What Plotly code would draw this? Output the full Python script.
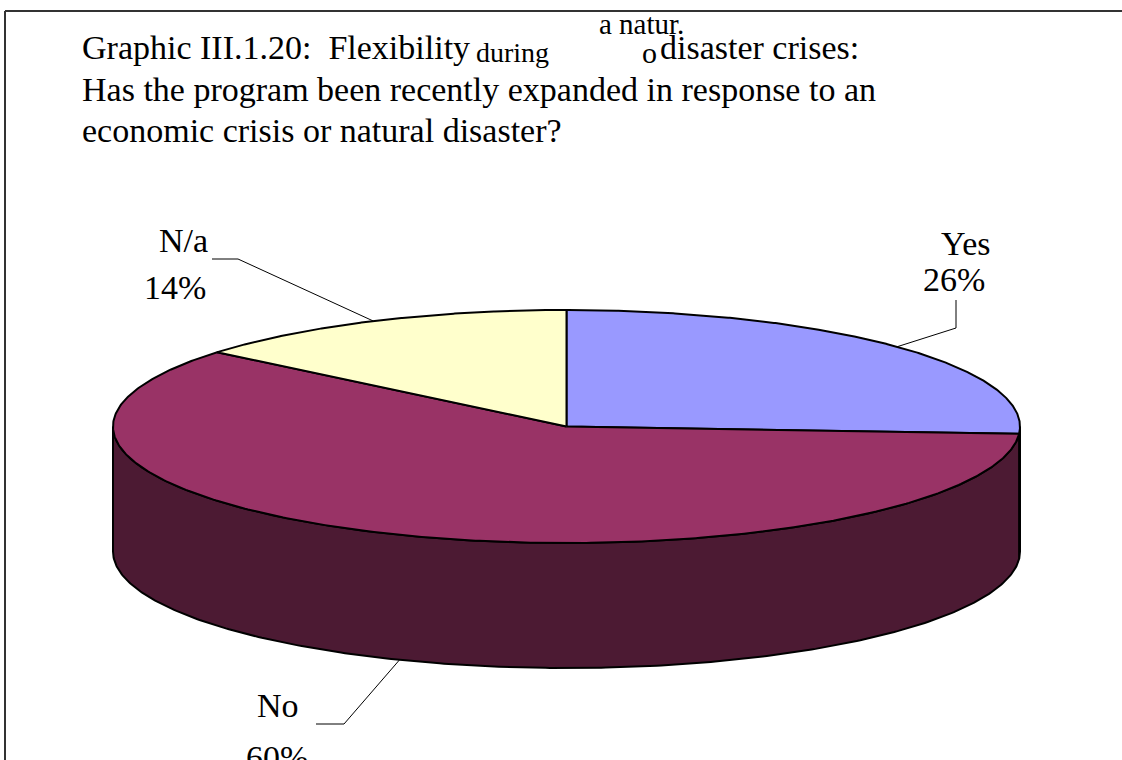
import numpy as np
import plotly.graph_objects as go

# ---- data ----
labels = ["Yes", "No", "N/a"]
values = [26, 60, 14]
pct_labels = ["26%", "60%", "14%"]

title_line2 = "Has the program been recently expanded in response to an"
title_line3 = "economic crisis or natural disaster?"

# ---- style / layout constants ----
top_colors = ["#9999FF", "#993366", "#FFFFCC"]
side_colors = ["#4D4D80", "#4C1A33", "#80806A"]
W, H = 1122, 760
cx, cy, rx, ry, depth = 566.5, 426.5, 453.5, 116.5, 125
FONT = "Liberation Serif, Times New Roman, serif"

# label placement (name centre, pct centre, elbow, end) per slice
label_pos = {
    "Yes": dict(name=(965, 243), pct=(954, 279), elbow=(956, 328), end=(956, 300), bottom=False),
    "No": dict(name=(278, 705), pct=(277, 757), elbow=(344, 724), end=(316, 724), bottom=True),
    "N/a": dict(name=(183, 240), pct=(175, 287), elbow=(238, 259), end=(212, 259), bottom=False),
}


def pt(theta_deg, dy=0.0):
    t = np.radians(theta_deg)
    return cx + rx * np.sin(t), cy - ry * np.cos(t) + dy


total = float(sum(values))
starts, ends = [], []
acc = 0.0
for v in values:
    starts.append(acc / total * 360.0)
    acc += v
    ends.append(acc / total * 360.0)

fig = go.Figure()

# side walls (front half only: 90..270 deg clockwise from top)
for i in range(len(values)):
    a1, a2 = max(starts[i], 90.0), min(ends[i], 270.0)
    if a2 > a1:
        th = np.linspace(a1, a2, 300)
        xt, yt = pt(th)
        xb, yb = pt(th[::-1], depth)
        xs = np.concatenate([xt, xb, xt[:1]])
        ys = np.concatenate([yt, yb, yt[:1]])
        fig.add_trace(go.Scatter(x=xs, y=ys, mode="lines", fill="toself",
                                 fillcolor=side_colors[i],
                                 line=dict(color="black", width=2),
                                 hoverinfo="skip", showlegend=False))

# top faces
for i in range(len(values)):
    th = np.linspace(starts[i], ends[i], 400)
    x, y = pt(th)
    xs = np.concatenate([[cx], x, [cx]])
    ys = np.concatenate([[cy], y, [cy]])
    fig.add_trace(go.Scatter(x=xs, y=ys, mode="lines", fill="toself",
                             fillcolor=top_colors[i],
                             line=dict(color="black", width=2),
                             hoverinfo="skip", showlegend=False))

annotations = []
# leader lines + labels
for i, lab in enumerate(labels):
    p = label_pos[lab]
    mid = (starts[i] + ends[i]) / 2.0
    ax_, ay_ = pt(mid, depth if p["bottom"] else 0.0)
    fig.add_trace(go.Scatter(x=[ax_, p["elbow"][0], p["end"][0]],
                             y=[ay_, p["elbow"][1], p["end"][1]],
                             mode="lines", line=dict(color="black", width=1),
                             hoverinfo="skip", showlegend=False))
    annotations.append(dict(x=p["name"][0], y=p["name"][1], text=lab, showarrow=False,
                            xref="x", yref="y", xanchor="center", yanchor="middle",
                            font=dict(family=FONT, size=34, color="black")))
    annotations.append(dict(x=p["pct"][0], y=p["pct"][1], text=pct_labels[i], showarrow=False,
                            xref="x", yref="y", xanchor="center", yanchor="middle",
                            font=dict(family=FONT, size=34, color="black")))

# title pieces (as rendered in the original, with its odd glitch)
title_pieces = [
    dict(text="Graphic III.1.20:  Flexibility", x=80, y=47, size=34),
    dict(text="during", x=474, y=52, size=28),
    dict(text="a natur.", x=597, y=24, size=29),
    dict(text="o", x=640, y=52, size=30),
    dict(text="disaster crises:", x=658, y=47, size=34),
    dict(text=title_line2, x=80, y=89, size=34),
    dict(text=title_line3, x=80, y=130, size=34),
]
for tp in title_pieces:
    annotations.append(dict(x=tp["x"], y=tp["y"], text=tp["text"], showarrow=False,
                            xref="x", yref="y", xanchor="left", yanchor="middle",
                            font=dict(family=FONT, size=tp["size"], color="black")))

shapes = [
    dict(type="line", x0=5, y0=11, x1=W, y1=11, xref="x", yref="y",
         line=dict(color="#333333", width=2)),
    dict(type="line", x0=5, y0=11, x1=5, y1=H, xref="x", yref="y",
         line=dict(color="#333333", width=2)),
]

fig.update_layout(
    width=W, height=H,
    margin=dict(l=0, r=0, t=0, b=0),
    paper_bgcolor="white", plot_bgcolor="white",
    xaxis=dict(range=[0, W], visible=False, fixedrange=True),
    yaxis=dict(range=[H, 0], visible=False, fixedrange=True),
    annotations=annotations, shapes=shapes,
    showlegend=False,
)

fig.write_html("out.html", config={"displayModeBar": False})
